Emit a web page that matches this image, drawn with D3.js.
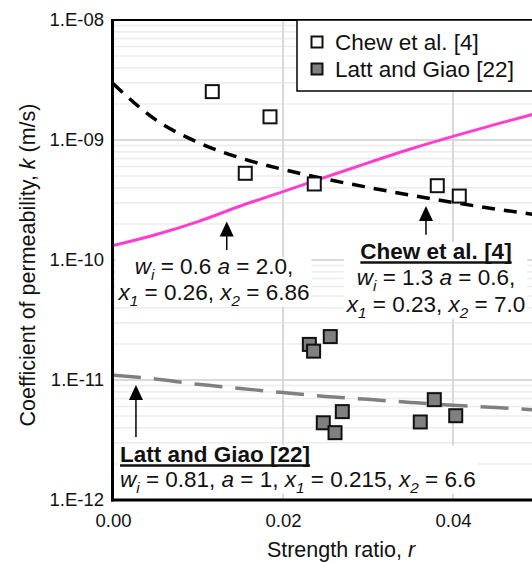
<!DOCTYPE html>
<html>
<head>
<meta charset="utf-8">
<script src="https://cdn.jsdelivr.net/npm/d3@7"></script>
<style>
  body { margin: 0; background: #fff; }
  svg { display: block; font-family: "Liberation Sans", Arial, sans-serif; }
</style>
</head>
<body>
<div id="chart"></div>
<script>
// measured data: Chew et al. [4]
var chewR = [0.01168, 0.01847, 0.01556, 0.02368, 0.03815, 0.04074];
var chewK = [2.53e-9, 1.56e-9, 5.28e-10, 4.30e-10, 4.16e-10, 3.41e-10];

// measured data: Latt and Giao [22]
var lattR = [0.0231, 0.0236, 0.02556, 0.02474, 0.02612, 0.02698, 0.03615, 0.0378, 0.04032];
var lattK = [1.98e-11, 1.74e-11, 2.30e-11, 4.40e-12, 3.64e-12, 5.45e-12, 4.47e-12, 6.86e-12, 5.04e-12];

// model curves
var curveR = [0, 0.005, 0.01, 0.015, 0.02, 0.025, 0.03, 0.035, 0.04, 0.045, 0.05];
var pinkK  = [1.318e-10, 1.622e-10, 2.089e-10, 2.818e-10, 3.715e-10, 4.898e-10, 6.457e-10, 8.414e-10, 1.072e-9, 1.349e-9, 1.679e-9];
var chewFitK = [2.951e-9, 1.479e-9, 9.55e-10, 7.08e-10, 5.69e-10, 4.73e-10, 4.03e-10, 3.47e-10, 3.02e-10, 2.66e-10, 2.37e-10];
var lattFitK = [1.10e-11, 1.02e-11, 9.2e-12, 8.5e-12, 7.85e-12, 7.3e-12, 6.9e-12, 6.5e-12, 6.15e-12, 5.9e-12, 5.6e-12];

// axes
var xTicks = [0, 0.02, 0.04];
var yTicks = [1e-12, 1e-11, 1e-10, 1e-9, 1e-8];
var yTickLabels = ["1.E-12", "1.E-11", "1.E-10", "1.E-09", "1.E-08"];

function drawChart() {
    var W = 532, H = 563;
    var pL = 113, pT = 20, pB = 500, pR = 538;

    var svg = d3.select("#chart").append("svg").attr("width", W).attr("height", H);

    var x = d3.scaleLinear().domain([0, 0.05]).range([pL, pR]);
    var y = d3.scaleLog().domain([1e-12, 1e-8]).range([pB, pT]);

    svg.append("defs").append("clipPath").attr("id", "plotclip")
        .append("rect").attr("x", pL).attr("y", pT).attr("width", W - pL).attr("height", pB - pT);

    var plot = svg.append("g").attr("clip-path", "url(#plotclip)");

    // minor horizontal grid (2..9 in each decade)
    var minor = [];
    for (var e = -12; e < -8; e++) {
        for (var m = 2; m <= 9; m++) minor.push(m * Math.pow(10, e));
    }
    plot.selectAll(".minor").data(minor).enter().append("line")
        .attr("x1", pL).attr("x2", W)
        .attr("y1", d => y(d)).attr("y2", d => y(d))
        .attr("stroke", "#ececec").attr("stroke-width", 1.5);

    plot.selectAll(".major").data(yTicks).enter().append("line")
        .attr("x1", pL).attr("x2", W)
        .attr("y1", d => y(d)).attr("y2", d => y(d))
        .attr("stroke", "#d9d9d9").attr("stroke-width", 2);

    plot.selectAll(".vgrid").data(xTicks.slice(1)).enter().append("line")
        .attr("x1", d => x(d)).attr("x2", d => x(d))
        .attr("y1", pT).attr("y2", pB)
        .attr("stroke", "#d9d9d9").attr("stroke-width", 2);

    // annotation text blocks (white boxes hide the grid)
    var FS = 22.5;
    function addBlock(lines, anchor, cx) {
        var g = svg.append("g");
        var bg = g.append("rect").attr("fill", "#fff");
        var texts = [];
        lines.forEach(function (ln) {
            var t = g.append("text").attr("x", cx).attr("y", ln.y)
                .attr("text-anchor", anchor).attr("font-size", FS).attr("fill", "#111");
            if (ln.bold) t.attr("font-weight", "bold");
            ln.parts.forEach(function (p) {
                var s = t.append("tspan").text(p.t);
                if (p.i) s.attr("font-style", "italic");
                if (p.sub) s.attr("font-size", FS * 0.68).attr("dy", 6);
                if (p.up) s.attr("dy", -6);
            });
            texts.push({ node: t, ln: ln });
        });
        var x0 = 1e9, x1 = -1e9;
        texts.forEach(function (o) {
            var b = o.node.node().getBBox();
            x0 = Math.min(x0, b.x); x1 = Math.max(x1, b.x + b.width);
            if (o.ln.under) {
                g.append("line").attr("x1", b.x).attr("x2", b.x + b.width)
                    .attr("y1", o.ln.y + 3.5).attr("y2", o.ln.y + 3.5)
                    .attr("stroke", "#111").attr("stroke-width", 2.5);
            }
        });
        var yTop = lines[0].y - FS * 0.74;
        var yBot = lines[lines.length - 1].y + FS * 0.3;
        bg.attr("x", x0 - 2).attr("y", yTop).attr("width", x1 - x0 + 4).attr("height", yBot - yTop);
    }

    addBlock([
        { y: 274, parts: [{ t: "w", i: 1 }, { t: "i", i: 1, sub: 1 }, { t: " = 0.6 ", up: 1 }, { t: "a", i: 1 }, { t: " = 2.0," }] },
        { y: 300, parts: [{ t: "x", i: 1 }, { t: "1", i: 1, sub: 1 }, { t: " = 0.26, ", up: 1 }, { t: "x", i: 1 }, { t: "2", i: 1, sub: 1 }, { t: " = 6.86", up: 1 }] }
    ], "middle", 214);

    addBlock([
        { y: 259, bold: 1, under: 1, parts: [{ t: "Chew et al. [4]" }] },
        { y: 285, parts: [{ t: "w", i: 1 }, { t: "i", i: 1, sub: 1 }, { t: " = 1.3 ", up: 1 }, { t: "a", i: 1 }, { t: " = 0.6," }] },
        { y: 312, parts: [{ t: "x", i: 1 }, { t: "1", i: 1, sub: 1 }, { t: " = 0.23, ", up: 1 }, { t: "x", i: 1 }, { t: "2", i: 1, sub: 1 }, { t: " = 7.0", up: 1 }] }
    ], "middle", 436);

    addBlock([
        { y: 462, bold: 1, under: 1, parts: [{ t: "Latt and Giao [22]" }] },
        { y: 487, parts: [{ t: "w", i: 1 }, { t: "i", i: 1, sub: 1 }, { t: " = 0.81, ", up: 1 }, { t: "a", i: 1 }, { t: " = 1, " },
            { t: "x", i: 1 }, { t: "1", i: 1, sub: 1 }, { t: " = 0.215, ", up: 1 }, { t: "x", i: 1 }, { t: "2", i: 1, sub: 1 }, { t: " = 6.6", up: 1 }] }
    ], "start", 120);

    // model curves
    var line = d3.line().x(d => x(d[0])).y(d => y(d[1])).curve(d3.curveMonotoneX);

    plot.append("path").datum(d3.zip(curveR, lattFitK))
        .attr("d", line).attr("fill", "none")
        .attr("stroke", "#808080").attr("stroke-width", 3.5).attr("stroke-dasharray", "28,13");

    plot.append("path").datum(d3.zip(curveR, pinkK))
        .attr("d", line).attr("fill", "none")
        .attr("stroke", "#ff3dce").attr("stroke-width", 3);

    plot.append("path").datum(d3.zip(curveR, chewFitK))
        .attr("d", line).attr("fill", "none")
        .attr("stroke", "#000").attr("stroke-width", 3.5).attr("stroke-dasharray", "13,9");

    // arrows
    var arrows = [
        { r: 0.0027, k0: 3.35e-12, k1: 9.1e-12 },
        { r: 0.01338, k0: 1.21e-10, k1: 2.09e-10 },
        { r: 0.03682, k0: 1.62e-10, k1: 2.82e-10 }
    ];
    arrows.forEach(function (a) {
        var ax = x(a.r), y0 = y(a.k0), y1 = y(a.k1);
        svg.append("line").attr("x1", ax).attr("x2", ax).attr("y1", y0).attr("y2", y1 + 10)
            .attr("stroke", "#000").attr("stroke-width", 1.5);
        svg.append("path")
            .attr("d", "M" + ax + "," + y1 + "L" + (ax + 7) + "," + (y1 + 15) + "L" + (ax - 7) + "," + (y1 + 15) + "Z")
            .attr("fill", "#000");
    });

    // data points
    var sq = 13;
    plot.selectAll(".latt").data(d3.zip(lattR, lattK)).enter().append("rect")
        .attr("x", d => x(d[0]) - sq / 2).attr("y", d => y(d[1]) - sq / 2)
        .attr("width", sq).attr("height", sq)
        .attr("fill", "#808080").attr("stroke", "#111").attr("stroke-width", 2);

    plot.selectAll(".chew").data(d3.zip(chewR, chewK)).enter().append("rect")
        .attr("x", d => x(d[0]) - sq / 2).attr("y", d => y(d[1]) - sq / 2)
        .attr("width", sq).attr("height", sq)
        .attr("fill", "#fff").attr("stroke", "#111").attr("stroke-width", 2);

    // frame
    svg.append("line").attr("x1", pL).attr("x2", W).attr("y1", pT).attr("y2", pT)
        .attr("stroke", "#000").attr("stroke-width", 2);
    svg.append("line").attr("x1", pL - 0.5).attr("x2", pL - 0.5).attr("y1", pT - 1).attr("y2", pB + 1.5)
        .attr("stroke", "#000").attr("stroke-width", 3);
    svg.append("line").attr("x1", pL - 2).attr("x2", W).attr("y1", pB).attr("y2", pB)
        .attr("stroke", "#000").attr("stroke-width", 3);

    // legend
    var lg = svg.append("g");
    lg.append("rect").attr("x", 297).attr("y", pT).attr("width", 300).attr("height", 71)
        .attr("fill", "#fff").attr("stroke", "#000").attr("stroke-width", 1.5);
    var legendItems = [
        { label: "Chew et al. [4]", fill: "#fff", y: 42 },
        { label: "Latt and Giao [22]", fill: "#808080", y: 69 }
    ];
    legendItems.forEach(function (it) {
        lg.append("rect").attr("x", 317 - 5.5).attr("y", it.y - 5.5).attr("width", 11).attr("height", 11)
            .attr("fill", it.fill).attr("stroke", "#111").attr("stroke-width", 2);
        lg.append("text").attr("x", 335).attr("y", it.y + 8).attr("font-size", FS).attr("fill", "#111").text(it.label);
    });

    // axes labels
    var yAxis = d3.axisLeft(y).tickValues(yTicks).tickSize(0).tickPadding(9)
        .tickFormat((d, i) => yTickLabels[i]);
    var gy = svg.append("g").attr("transform", "translate(" + pL + ",0)").call(yAxis)
        .attr("font-family", null).attr("font-size", null);
    gy.select(".domain").remove();
    gy.selectAll("text").attr("font-size", 18.5).attr("fill", "#111");

    var xAxis = d3.axisBottom(x).tickValues(xTicks).tickSize(0).tickFormat(d3.format(".2f"));
    var gx = svg.append("g").attr("transform", "translate(0," + pB + ")").call(xAxis)
        .attr("font-family", null).attr("font-size", null);
    gx.select(".domain").remove();
    gx.selectAll("text").attr("font-size", 18.5).attr("fill", "#111")
        .attr("y", 27).attr("dy", 0);

    var xt = svg.append("text").attr("x", 341).attr("y", 557).attr("text-anchor", "middle")
        .attr("font-size", 21.5).attr("fill", "#111");
    xt.append("tspan").text("Strength ratio, ");
    xt.append("tspan").attr("font-style", "italic").text("r");

    var yt = svg.append("text").attr("transform", "translate(35,265) rotate(-90)")
        .attr("text-anchor", "middle").attr("font-size", 21.5).attr("fill", "#111");
    yt.append("tspan").text("Coefficient of permeability, ");
    yt.append("tspan").attr("font-style", "italic").text("k");
    yt.append("tspan").text(" (m/s)");
}

drawChart();
</script>
</body>
</html>
